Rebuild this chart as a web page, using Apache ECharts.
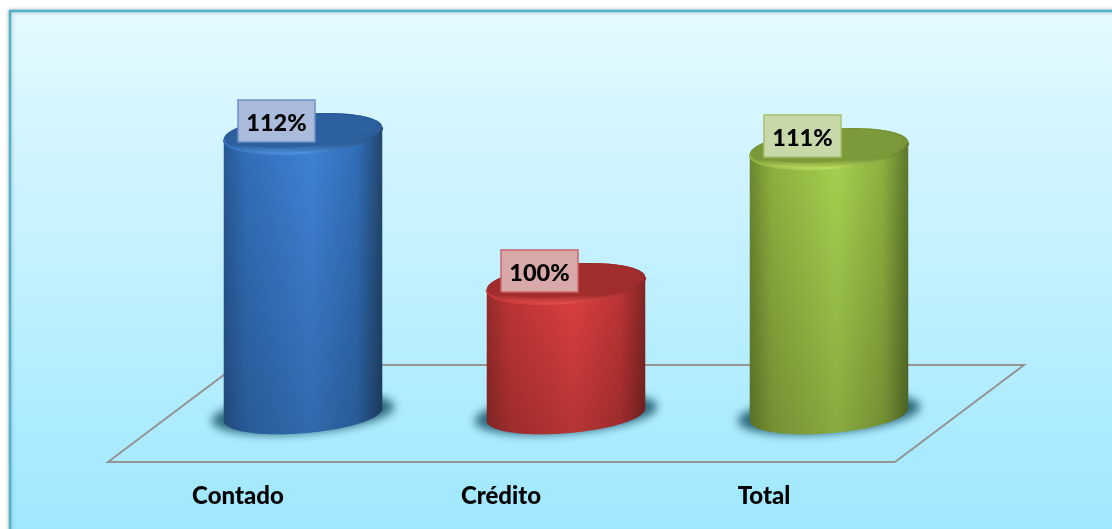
<!DOCTYPE html>
<html>
<head>
<meta charset="utf-8">
<style>
  html, body { margin: 0; padding: 0; background: #fff; }
  #chart { width: 1112px; height: 529px; }
</style>
<script src="https://cdn.jsdelivr.net/npm/echarts@6/dist/echarts.min.js"></script>
</head>
<body>
<div id="chart"></div>
<script>
var categories = ['Contado', 'Crédito', 'Total']
var percents = [112, 100, 110.8]

var yMin = 89.5
var yMax = 120
var rx = 79.5
var ry = 19.5
var tilt = -4.7 * Math.PI / 180

var palettes = [
  { left: '#2a5a98', soft: '#3270bb', mid: '#3f84d8', right: '#22476f', dim: '#2d609f', rimLow: '#4f92e0', rimTop: '#2a5a96', box: '#aabbdb', line: '#6c90c6' },
  { left: '#9c2c2c', soft: '#c23636', mid: '#e24141', right: '#852626', dim: '#a12d2d', rimLow: '#e64c4c', rimTop: '#9a2b2b', box: '#d9a9a9', line: '#c9646a' },
  { left: '#6c8a30', soft: '#8fb340', mid: '#a9d450', right: '#5c782b', dim: '#7b9b3a', rimLow: '#bde05e', rimTop: '#758f36', box: '#c8d9a9', line: '#a9c173' }
]

function ellipsePoints(cx, cy, a, b, t0, t1) {
  var pts = []
  var n = 72
  for (var i = 0; i <= n; i++) {
    var t = t0 + (t1 - t0) * i / n
    pts.push([
      cx + a * Math.cos(t) * Math.cos(tilt) - b * Math.sin(t) * Math.sin(tilt),
      cy + a * Math.cos(t) * Math.sin(tilt) + b * Math.sin(t) * Math.cos(tilt)
    ])
  }
  return pts
}

function renderCylinder(params, api) {
  var idx = api.value(0)
  var top = api.coord([idx, api.value(1)])
  var base = api.coord([idx, yMin])
  var cx = top[0]
  var p = palettes[idx]
  // point of the ellipse where the side walls touch
  var tr = Math.atan2(-ry * Math.sin(tilt), rx * Math.cos(tilt))
  var wall = ellipsePoints(cx, base[1], rx, ry - 1, tr, tr + Math.PI)
  var topArc = ellipsePoints(cx, top[1], rx, ry, tr + Math.PI, tr + 2 * Math.PI)
  var body = wall.concat(topArc)

  return {
    type: 'group',
    children: [
      // shape sits off the canvas so only its blurred shadow lands on the floor
      {
        type: 'polygon',
        shape: { points: ellipsePoints(cx - 3000, base[1] - 1, rx + 12, ry, 0, Math.PI * 2) },
        style: { fill: '#000', shadowBlur: 10, shadowOffsetX: 3000, shadowColor: 'rgba(36,96,116,0.95)' }
      },
      {
        type: 'polygon',
        shape: { points: body },
        style: {
          fill: new echarts.graphic.LinearGradient(0, 0, 1, 0, [
            { offset: 0, color: p.left },
            { offset: 0.14, color: p.soft },
            { offset: 0.55, color: p.mid },
            { offset: 0.84, color: p.soft },
            { offset: 1, color: p.right }
          ])
        }
      },
      {
        type: 'polygon',
        shape: { points: body },
        style: {
          fill: new echarts.graphic.LinearGradient(0, 0, 0, 1, [
            { offset: 0, color: 'rgba(0,0,0,0)' },
            { offset: 1, color: 'rgba(0,0,0,0.2)' }
          ])
        }
      },
      {
        type: 'polygon',
        shape: { points: ellipsePoints(cx, top[1], rx, ry, 0, Math.PI * 2) },
        style: {
          fill: new echarts.graphic.LinearGradient(0, 0, 0, 1, [
            { offset: 0, color: p.rimTop },
            { offset: 0.78, color: p.dim },
            { offset: 1, color: p.rimLow }
          ])
        }
      },
      {
        type: 'polygon',
        shape: { points: ellipsePoints(cx, top[1] - 2.5, rx - 6, ry - 4, 0, Math.PI * 2) },
        style: { fill: p.dim }
      },
      {
        type: 'polyline',
        shape: { points: ellipsePoints(cx, top[1], rx, ry, tr, tr + Math.PI) },
        style: {
          fill: 'none',
          lineWidth: 2,
          stroke: new echarts.graphic.LinearGradient(0, 0, 1, 0, [
            { offset: 0, color: p.soft },
            { offset: 0.5, color: p.rimLow },
            { offset: 1, color: p.right }
          ])
        }
      },
      {
        type: 'rect',
        shape: { x: cx - 65, y: top[1] - 33.5, width: 77, height: 42 },
        style: { fill: p.box, stroke: p.line, lineWidth: 1.5 }
      },
      {
        type: 'text',
        x: cx - 26.5,
        y: top[1] - 10.5,
        style: {
          text: Math.round(api.value(1)) + '%',
          fill: '#000',
          font: '900 23.5px Lato',
          align: 'center',
          verticalAlign: 'middle'
        }
      }
    ]
  }
}

var seriesData = categories.map(function(name, i) {
  return [i, percents[i]]
})

var myChart = echarts.init(document.getElementById('chart'))
var option = {
  animation: false,
  graphic: [
    {
      type: 'rect',
      z: 0,
      shape: { x: 10, y: 11, width: 1120, height: 540 },
      style: {
        fill: new echarts.graphic.LinearGradient(0, 0, 0, 1, [
          { offset: 0, color: '#e4f9ff' },
          { offset: 1, color: '#9ce7ff' }
        ]),
        stroke: '#4fb3cc',
        lineWidth: 2.5,
        shadowBlur: 4,
        shadowColor: 'rgba(0,0,0,0.25)'
      }
    },
    {
      type: 'polygon',
      z: 1,
      shape: { points: [[108, 462], [895, 462], [1024, 365], [237, 365]] },
      style: { fill: 'none', stroke: '#949494', lineWidth: 2 }
    }
  ],
  grid: { left: 171.5, width: 789, top: 33.5, height: 381.25 },
  xAxis: {
    type: 'category',
    data: categories,
    axisLine: { show: false },
    axisTick: { show: false },
    axisLabel: {
      margin: 70,
      color: '#000',
      fontFamily: 'Lato',
      fontWeight: 900,
      fontSize: 24,
      padding: [0, 130, 0, 0]
    }
  },
  yAxis: { type: 'value', min: yMin, max: yMax, show: false, splitLine: { show: false } },
  series: [
    {
      type: 'custom',
      z: 5,
      renderItem: renderCylinder,
      encode: { x: 0, y: 1 },
      data: seriesData
    }
  ]
}
myChart.setOption(option)
window.addEventListener('resize', function() {
  myChart.resize()
})
</script>
</body>
</html>
